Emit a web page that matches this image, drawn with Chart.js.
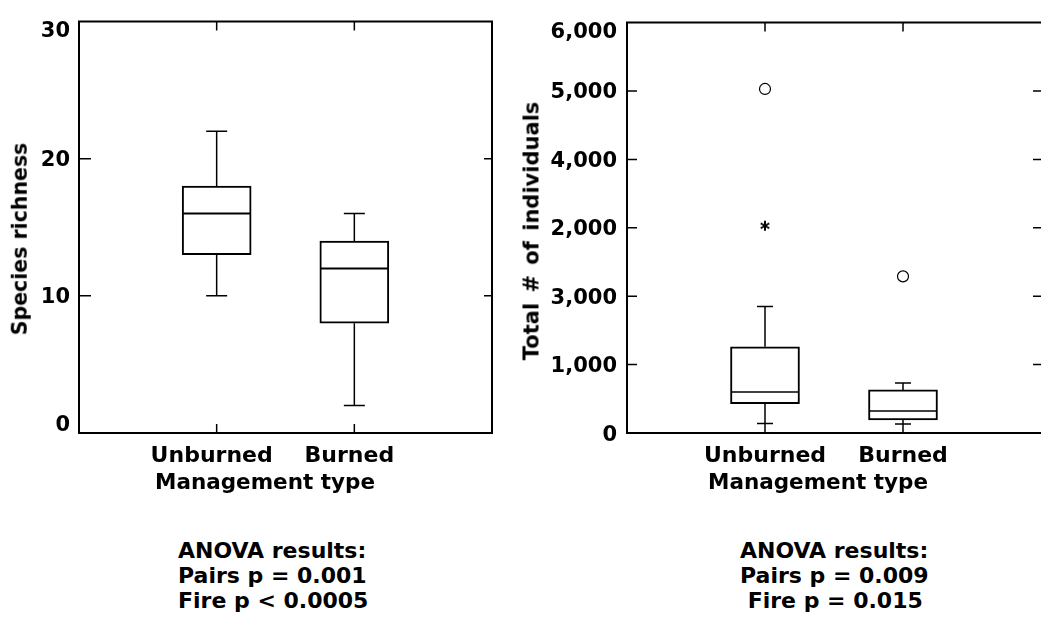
<!DOCTYPE html>
<html>
<head>
<meta charset="utf-8">
<script src="https://cdn.jsdelivr.net/npm/chart.js@4.4.0/dist/chart.umd.min.js"></script>
<style>
body { margin: 0; background: #fff; }
#wrap { position: relative; width: 1041px; height: 626px; overflow: hidden; font-family: 'DejaVu Sans', sans-serif; font-weight: bold; color: #000; }
#wrap canvas { position: absolute; top: 0; }
#leftChart { left: 0; }
#rightChart { left: 520px; }
.ytitle { position: absolute; white-space: nowrap; line-height: 1; transform: translate(-50%, -50%) rotate(-90deg); }
.xtitle { position: absolute; white-space: nowrap; font-size: 21.5px; line-height: 25px; }
.anova { position: absolute; white-space: pre; font-size: 22px; line-height: 25px; }
</style>
</head>
<body>
<div id="wrap">
  <canvas id="leftChart" width="520" height="470"></canvas>
  <canvas id="rightChart" width="521" height="470"></canvas>
  <div class="ytitle" style="left:20px; top:239px; font-size:20.5px;">Species richness</div>
  <div class="ytitle" style="left:532px; top:231px; font-size:21px; word-spacing:3px;">Total # of individuals</div>
  <div class="xtitle" style="left:155px; top:469px;">Management type</div>
  <div class="xtitle" style="left:708px; top:469px;">Management type</div>
  <div class="anova" style="left:178px; top:538px;">ANOVA results:
Pairs p = 0.001
Fire p &lt; 0.0005</div>
  <div class="anova" style="left:740px; top:538px;">ANOVA results:
Pairs p = 0.009
 Fire p = 0.015</div>
</div>
<script>
const categories = ['Unburned', 'Burned'];
const catPositions = [1, 2];

// species richness (left)
const richLow = [10, 2];
const richQ1 = [13, 8];
const richMedian = [16, 12];
const richQ3 = [18, 14];
const richHigh = [22, 16];
const richTicks = ['0', '10', '20', '30'];

// total number of individuals (right)
const indLow = [140, 130];
const indQ1 = [430, 190];
const indMedian = [600, 320];
const indQ3 = [1260, 630];
const indHigh = [1850, 730];
const indOutlierCircle = [5030, 2290];
const indOutlierStar = [3030, null];
const indTicks = ['0', '1,000', '3,000', '2,000', '4,000', '5,000', '6,000'];

Chart.defaults.font.family = "'DejaVu Sans', sans-serif";
Chart.defaults.font.weight = 'bold';
Chart.defaults.color = '#000';

// little six armed asterisk used as point style for the extreme value
function asteriskImage() {
    const c = document.createElement('canvas');
    c.width = 14; c.height = 14;
    const g = c.getContext('2d');
    g.strokeStyle = '#000';
    g.lineWidth = 2;
    g.beginPath();
    for (let k = 0; k < 3; k++) {
        const ang = Math.PI / 2 + k * Math.PI / 3;
        g.moveTo(7 + Math.cos(ang) * 5, 7 + Math.sin(ang) * 5);
        g.lineTo(7 - Math.cos(ang) * 5, 7 - Math.sin(ang) * 5);
    }
    g.stroke();
    return c;
}

function makeBoxPlugin(s) {
    return {
        id: 'boxPlot',
        beforeDraw(chart) {
            // nudge the tick labels like the original (end ones pulled inside)
            const items = chart.scales.y.getLabelItems();
            items.forEach(function (it, i) {
                if (it._moved) return;
                it.options.translation[1] += (s.labelShift[i] !== undefined ? s.labelShift[i] : 2);
                it._moved = true;
            });
        },
        beforeDatasetsDraw(chart) {
            const x = chart.scales.x, y = chart.scales.y, ctx = chart.ctx;
            ctx.save();
            ctx.strokeStyle = '#000';
            ctx.lineWidth = 1.5;
            s.low.forEach(function (v, i) {
                const px = x.getPixelForValue(catPositions[i]);
                const yLow = y.getPixelForValue(v);
                const yHigh = y.getPixelForValue(s.high[i]);
                const yQ1 = y.getPixelForValue(s.q1[i]);
                const yQ3 = y.getPixelForValue(s.q3[i]);
                ctx.beginPath();
                ctx.moveTo(px, yQ1); ctx.lineTo(px, yLow);
                ctx.moveTo(px, yQ3); ctx.lineTo(px, yHigh);
                ctx.moveTo(px - s.capWidth / 2, yLow); ctx.lineTo(px + s.capWidth / 2, yLow);
                ctx.moveTo(px - s.capWidth / 2, yHigh); ctx.lineTo(px + s.capWidth / 2, yHigh);
                ctx.stroke();
            });
            ctx.restore();
        },
        afterDatasetsDraw(chart) {
            const x = chart.scales.x, y = chart.scales.y, ctx = chart.ctx;
            ctx.save();
            ctx.strokeStyle = '#000';
            ctx.lineWidth = s.medianWidth;
            s.median.forEach(function (v, i) {
                const px = x.getPixelForValue(catPositions[i]);
                const py = y.getPixelForValue(v);
                ctx.beginPath();
                ctx.moveTo(px - s.boxWidth / 2 + 1, py);
                ctx.lineTo(px + s.boxWidth / 2 - 1, py);
                ctx.stroke();
            });
            ctx.restore();
        },
        afterDraw(chart) {
            const a = chart.chartArea, x = chart.scales.x, y = chart.scales.y, ctx = chart.ctx;
            ctx.save();
            ctx.strokeStyle = '#000';
            ctx.lineWidth = 2;
            ctx.beginPath();
            if (s.closed) {
                ctx.rect(a.left, a.top, a.right - a.left, a.bottom - a.top);
            } else {
                ctx.moveTo(a.right, a.top);
                ctx.lineTo(a.left, a.top);
                ctx.lineTo(a.left, a.bottom);
                ctx.lineTo(a.right, a.bottom);
            }
            ctx.stroke();

            ctx.lineWidth = 1.5;
            ctx.beginPath();
            y.ticks.forEach(function (t) {
                if (t.value <= y.min || t.value >= y.max) return;
                const py = y.getPixelForValue(t.value);
                ctx.moveTo(a.left, py); ctx.lineTo(a.left + s.leftTick, py);
                ctx.moveTo(a.right, py); ctx.lineTo(a.right - s.rightTick, py);
            });
            catPositions.forEach(function (v) {
                const px = x.getPixelForValue(v);
                ctx.moveTo(px, a.top); ctx.lineTo(px, a.top + 9);
                ctx.moveTo(px, a.bottom); ctx.lineTo(px, a.bottom - 9);
            });
            ctx.stroke();
            ctx.restore();
        }
    };
}

function buildChart(canvasId, s) {
    const datasets = [{
        type: 'bar',
        data: categories.map(function (c, i) { return { x: catPositions[i], y: [s.q1[i], s.q3[i]] }; }),
        backgroundColor: '#fff',
        borderColor: '#000',
        borderWidth: 2,
        borderSkipped: false,
        barThickness: s.boxWidth,
        order: 3
    }];
    if (s.circles) {
        datasets.push({
            type: 'scatter',
            data: s.circles.map(function (v, i) { return { x: catPositions[i], y: v }; }).filter(function (p) { return p.y !== null; }),
            pointStyle: 'circle',
            pointRadius: 5.5,
            borderWidth: 1.2,
            borderColor: '#000',
            backgroundColor: '#fff',
            order: 1
        });
    }
    if (s.stars) {
        datasets.push({
            type: 'scatter',
            data: s.stars.map(function (v, i) { return { x: catPositions[i], y: v }; }).filter(function (p) { return p.y !== null; }),
            pointStyle: asteriskImage(),
            pointRadius: 5,
            order: 1
        });
    }

    new Chart(document.getElementById(canvasId), {
        type: 'bar',
        data: { datasets: datasets },
        plugins: [makeBoxPlugin(s)],
        options: {
            responsive: false,
            animation: false,
            events: [],
            layout: { autoPadding: false, padding: { left: 0, right: s.padRight, top: 16, bottom: 0 } },
            plugins: { legend: { display: false }, tooltip: { enabled: false } },
            scales: {
                x: {
                    type: 'linear',
                    min: 0,
                    max: 3,
                    offset: false,
                    afterBuildTicks: function (sc) { sc.ticks = catPositions.map(function (v) { return { value: v }; }); },
                    afterFit: function (sc) { sc.height = 37; },
                    ticks: {
                        autoSkip: false,
                        maxRotation: 0,
                        padding: 10,
                        labelOffset: s.xLabelOffset,
                        font: { size: 22, weight: 'bold' },
                        color: '#000',
                        callback: function (v) { return categories[catPositions.indexOf(v)]; }
                    },
                    grid: { display: false, drawTicks: false },
                    border: { display: false }
                },
                y: {
                    min: 0,
                    max: s.max,
                    afterFit: function (sc) { sc.width = s.yWidth; },
                    ticks: {
                        stepSize: s.step,
                        padding: s.tickPad,
                        font: { size: 21, weight: 'bold' },
                        color: '#000',
                        callback: function (v, i) { return s.tickLabels[i]; }
                    },
                    grid: { display: false, drawTicks: false },
                    border: { display: false }
                }
            }
        }
    });
}

buildChart('leftChart', {
    low: richLow, q1: richQ1, median: richMedian, q3: richQ3, high: richHigh,
    max: 30, step: 10, tickLabels: richTicks,
    yWidth: 79, padRight: 28, tickPad: 9, xLabelOffset: -5,
    boxWidth: 69, capWidth: 21, medianWidth: 2,
    leftTick: 12, rightTick: 8, closed: true,
    labelShift: { 0: -7, 3: 10 }
});

buildChart('rightChart', {
    low: indLow, q1: indQ1, median: indMedian, q3: indQ3, high: indHigh,
    circles: indOutlierCircle, stars: indOutlierStar,
    max: 6000, step: 1000, tickLabels: indTicks,
    yWidth: 107, padRight: 0, tickPad: 10, xLabelOffset: 0,
    boxWidth: 69, capWidth: 16, medianWidth: 1.5,
    leftTick: 10, rightTick: 8, closed: false,
    labelShift: { 0: 3, 6: 10 }
});
</script>
</body>
</html>
